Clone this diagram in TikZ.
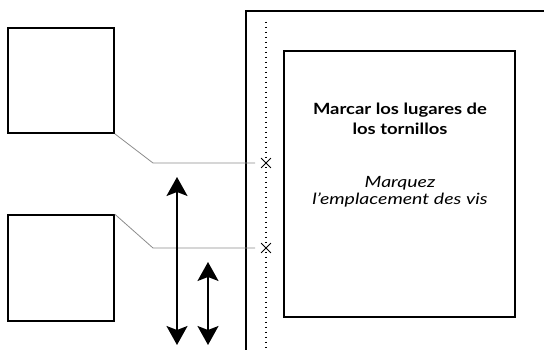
\documentclass[tikz,border=0pt]{standalone}
\usepackage{fontspec}
\setmainfont{Lato}
\newfontfamily\titlefont[FakeStretch=1.19]{Lato}
\newfontfamily\notefont[FakeStretch=1.26]{Lato}
\usetikzlibrary{arrows.meta,shapes.misc,positioning}
\tikzset{
  plate/.style={draw,line width=1.6pt,minimum width=106pt,minimum height=105pt,inner sep=0pt},
  panel/.style={draw,line width=1.6pt,minimum width=231pt,minimum height=266pt,inner sep=0pt},
  screw/.style={draw,cross out,line width=0.8pt,minimum size=9pt,inner sep=0pt},
  leader/.style={draw=black!45,line width=0.8pt,shorten >=6pt},
  travel/.style={line width=1.6pt,{Stealth[length=19pt,width=21pt,inset=4pt]}-{Stealth[length=19pt,width=21pt,inset=4pt]}},
  wall/.style={line width=1.6pt},
  guide/.style={line width=1.1pt,dash pattern=on 1.1pt off 3.9pt},
  heading/.style={font=\titlefont\fontsize{15.5}{20}\selectfont\bfseries,align=center,inner sep=0pt},
  subheading/.style={font=\notefont\fontsize{15.5}{17}\selectfont\itshape,align=center,inner sep=0pt}
}
\begin{document}
\begin{tikzpicture}[x=1pt,y=-1pt]
	\useasboundingbox (0,0) rectangle (544,350);

	\draw[wall] (546,11) -- (246,11) -- (246,352); %edge of the wall
	\draw[guide] (266,22) -- (266,352); %line for the screws

	\node[panel] (panel) at (399.5,184) {};
	\node[heading] (title) at (400,119) {Marcar los lugares de\\los tornillos};
	\node[subheading] (subtitle) at (400,192) {Marquez\\l’emplacement des vis};

	\node[plate] (topplate) at (61,80.5) {};
	\node[plate, minimum height=106pt] (botplate) at (61,268) {};

	\node[screw] (topscrew) at (266,163) {};
	\node[screw] (botscrew) at (266,248) {};

	\coordinate (topkink) at (153,163);
	\coordinate (botkink) at (153,248);
	%leader lines from the plates to the screw marks
	\draw[leader] (topplate.south east) -- (topkink) -- (topscrew.west);
	\draw[leader] (botplate.north east) -- (botkink) -- (botscrew.west);

	\coordinate (longtop) at (177,177);
	\coordinate (longbot) at (177,345);
	\coordinate (shorttop) at (208,262);
	\coordinate (shortbot) at (208,345);
	\draw[travel] (longtop) -- (longbot);
	\draw[travel] (shorttop) -- (shortbot);

\end{tikzpicture}
\end{document}
